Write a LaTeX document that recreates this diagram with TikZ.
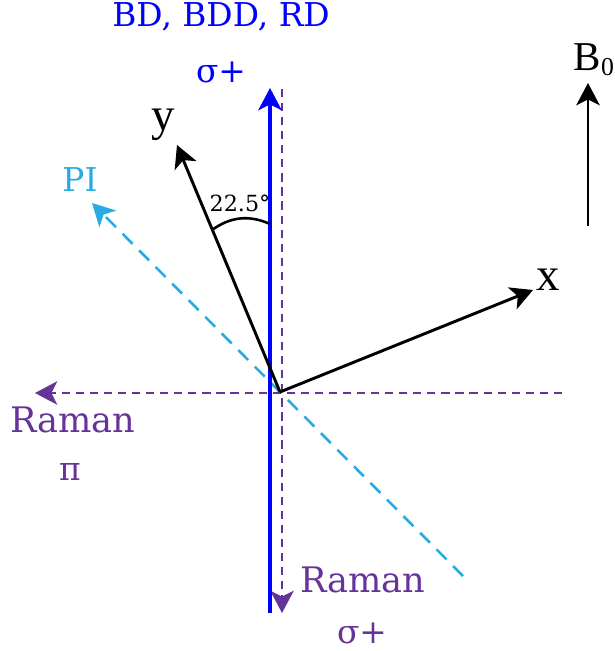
\documentclass[tikz,border=0pt]{standalone}
\usepackage{fontspec}
\usetikzlibrary{arrows.meta}
\newfontfamily\labfont{DejaVu Serif}
\newfontfamily\tmsfont{Liberation Serif}
\definecolor{ramanpurple}{RGB}{102,51,153}
\definecolor{picyan}{RGB}{41,171,226}
\definecolor{bdblue}{RGB}{0,0,255}
\begin{document}
\begin{tikzpicture}[x=0.03cm,y=-0.03cm,
  beamtip/.style={-{Stealth[length=19pt,width=20pt,inset=5pt]}},
  lab/.style={font=\labfont\fontsize{28}{30}\selectfont, inner sep=0pt, anchor=center},
  axlab/.style={font=\tmsfont\fontsize{40}{44}\selectfont, inner sep=0pt, anchor=center},
  bluebeam/.style={draw=bdblue, line width=2.8pt, beamtip},
  purbeam/.style={draw=ramanpurple, line width=2.2pt, dash pattern=on 7pt off 5pt, beamtip},
  cyanbeam/.style={draw=picyan, line width=2.2pt, dash pattern=on 12pt off 8pt, beamtip},
  axis/.style={draw=black, line width=2.5pt, beamtip}]
\useasboundingbox (0,0) rectangle (614,651);
% coordinates
\coordinate (O) at (280,392);
\coordinate (Ytip) at (177,145);
\coordinate (Xtip) at (533,290);
\coordinate (blueB) at (270,613);
\coordinate (blueT) at (270,88);
\coordinate (purT) at (282,89);
\coordinate (purB) at (282,613);
\coordinate (purR) at (562,393);
\coordinate (purL) at (35,393);
\coordinate (cyB) at (463,576);
\coordinate (cyT) at (92,203);
\coordinate (b0B) at (588,226);
\coordinate (b0T) at (588,83);
\coordinate (arcA) at (212,230);
\coordinate (arcB) at (270,224);
% beams
\draw[cyanbeam] (cyB) -- (cyT);
\draw[purbeam] (purR) -- (purL);
\draw[purbeam] (purT) -- (purB);
\draw[bluebeam] (blueB) -- (blueT);
% axes
\draw[axis] (O) -- (Ytip);
\draw[axis] (O) -- (Xtip);
\draw[black, line width=2.2pt] (arcA) to[bend left=30] (arcB);
\draw[axis, line width=2.4pt] (b0B) -- (b0T);
% labels
\node[lab, text=bdblue] (bdlab) at (221,17) {BD, BDD, RD};
\node[lab, text=bdblue] (sigtop) at (221,72) {σ+};
\node[axlab] (ylab) at (163,125) {y};
\node[axlab] (xlab) at (548,280) {x};
\node[lab, text=picyan] (pilab) at (80,180) {PI};
\node[font=\labfont\fontsize{19}{21}\selectfont, inner sep=0pt] (anglab) at (240,203) {22.5°};
\node[lab, text=ramanpurple, font=\labfont\fontsize{30}{32}\selectfont] (ramL) at (73,420) {Raman};
\node[lab, text=ramanpurple] (piL) at (70,472) {π};
\node[lab, text=ramanpurple, font=\labfont\fontsize{30}{32}\selectfont] (ramB) at (363,580) {Raman};
\node[lab, text=ramanpurple] (sigB) at (362,633) {σ+};
\node[font=\tmsfont\fontsize{35}{38}\selectfont, inner sep=0pt] (b0lab) at (594,60) {B\raisebox{-0.25ex}{\fontsize{22}{24}\selectfont 0}};
\end{tikzpicture}
\end{document}
